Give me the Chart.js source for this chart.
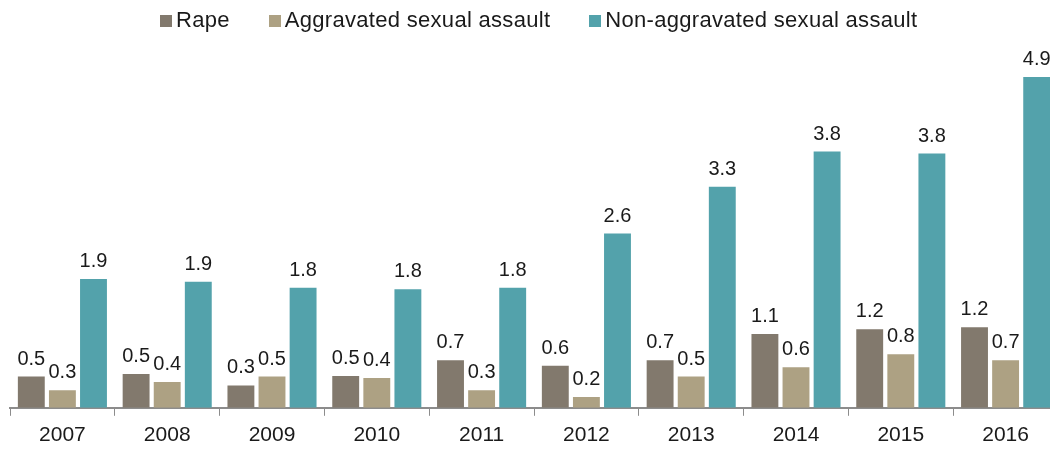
<!DOCTYPE html>
<html><head><meta charset="utf-8">
<script src="https://cdn.jsdelivr.net/npm/chart.js@4.4.1/dist/chart.umd.min.js"></script>
<style>
html,body{margin:0;padding:0;background:#fff;overflow:hidden;width:1050px;height:449px;}
#wrap{position:relative;width:1060px;height:456px;}
canvas{position:absolute;left:0;top:0;}
#legend{position:absolute;left:160px;top:8px;display:flex;gap:39px;font-family:"Liberation Sans",Arial,sans-serif;font-size:22px;letter-spacing:0.3px;color:#1a1a1a;line-height:24px;white-space:nowrap;}
#legend .box{display:inline-block;width:12px;height:12px;margin-right:4px;vertical-align:baseline;}
</style></head>
<body><div id="wrap"><canvas id="c" width="1060" height="456"></canvas><div id="legend"></div></div>
<script>
const years = ['2007','2008','2009','2010','2011','2012','2013','2014','2015','2016'];
const seriesNames = ['Rape','Aggravated sexual assault','Non-aggravated sexual assault'];
const rape          = [0.46, 0.50, 0.33, 0.47, 0.70, 0.62, 0.70, 1.09, 1.16, 1.19];
const aggravated    = [0.26, 0.38, 0.46, 0.44, 0.26, 0.16, 0.46, 0.60, 0.79, 0.70];
const nonAggravated = [1.90, 1.86, 1.77, 1.75, 1.77, 2.57, 3.26, 3.78, 3.75, 4.88];

const seriesColors = ['#82796d', '#ada183', '#53a2ab'];
const FONT = '"Liberation Sans", Arial, sans-serif';

const valueLabels = {
  id: 'valueLabels',
  afterDatasetsDraw(chart) {
    const ctx = chart.ctx;
    ctx.save();
    ctx.font = '20px ' + FONT;
    ctx.fillStyle = '#1a1a1a';
    ctx.textAlign = 'center';
    ctx.textBaseline = 'alphabetic';
    chart.data.datasets.forEach((ds, i) => {
      chart.getDatasetMeta(i).data.forEach((bar, j) => {
        ctx.fillText((Math.round(ds.data[j] * 10) / 10).toFixed(1), bar.x, bar.y - 12);
      });
    });
    ctx.restore();
  }
};

const htmlLegend = {
  id: 'htmlLegend',
  afterUpdate(chart) {
    const el = document.getElementById('legend');
    el.innerHTML = '';
    chart.data.datasets.forEach(ds => {
      const item = document.createElement('span');
      const box = document.createElement('span');
      box.className = 'box';
      box.style.background = ds.backgroundColor;
      item.appendChild(box);
      item.appendChild(document.createTextNode(ds.label));
      el.appendChild(item);
    });
  }
};

new Chart(document.getElementById('c'), {
  type: 'bar',
  data: {
    labels: years,
    datasets: [rape, aggravated, nonAggravated].map((d, i) => ({
      label: seriesNames[i],
      data: d,
      backgroundColor: seriesColors[i],
      borderWidth: 0,
      categoryPercentage: 0.89,
      barPercentage: 0.865
    }))
  },
  options: {
    responsive: false,
    animation: false,
    layout: { padding: { left: 10, right: 2, top: 35, bottom: 1 } },
    plugins: { legend: { display: false }, tooltip: { enabled: false } },
    scales: {
      x: {
        grid: { display: true, drawOnChartArea: false, drawTicks: true, tickLength: 8, color: '#8c8c8c', lineWidth: 1, offset: true },
        border: { display: true, color: '#8c8c8c', width: 2 },
        ticks: { color: '#1a1a1a', font: { family: FONT, size: 21 }, padding: 7, maxRotation: 0 }
      },
      y: { display: false, min: 0, max: 5.5 }
    }
  },
  plugins: [valueLabels, htmlLegend]
});
</script>
</body></html>
